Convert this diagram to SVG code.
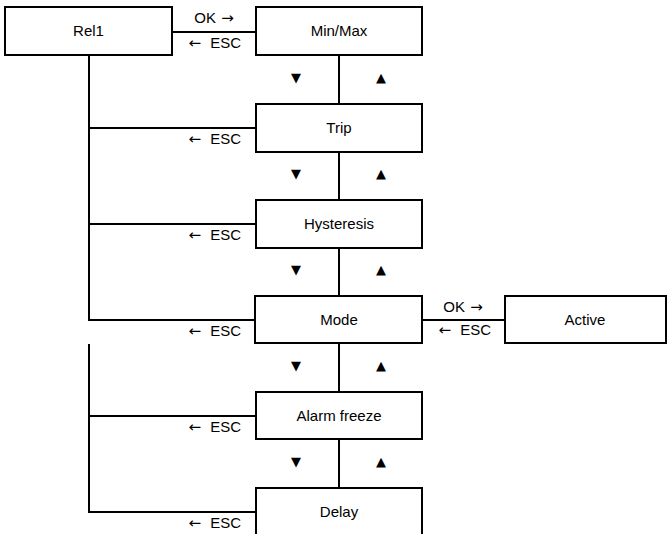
<svg xmlns="http://www.w3.org/2000/svg" width="668" height="534" viewBox="0 0 668 534">
<style>
.box{fill:#fff;stroke:#000;stroke-width:2}
.ln{fill:none;stroke:#000;stroke-width:2}
text{font-family:"Liberation Sans",Arial,sans-serif;font-size:15px;fill:#000}
.c{text-anchor:middle}
.r{text-anchor:end}
.a{font-family:"DejaVu Sans",sans-serif;font-size:15px}
.tri{font-family:"DejaVu Sans",sans-serif;font-size:13px;text-anchor:middle}
</style>
<rect width="668" height="534" fill="#fff"/>
<g id="connectors">
<path class="ln" d="M172,32H256M422,320H505"/>
<path class="ln" d="M89,55V320H255M89,128H255M89,224H255"/>
<path class="ln" d="M89,344V512H255M89,416H255"/>
<path class="ln" d="M339,55V104M339,152V200M339,248V296M339,343V392M339,439V488"/>
<text class="c" x="214" y="23">OK <tspan class="a" dx="1">→</tspan></text>
<text class="r" x="241" y="48"><tspan class="a">←</tspan><tspan dx="5"> ESC</tspan></text>
<text class="c" x="463" y="312">OK <tspan class="a" dx="1">→</tspan></text>
<text class="r" x="491" y="335"><tspan class="a">←</tspan><tspan dx="5"> ESC</tspan></text>
<text class="r" x="241" y="144"><tspan class="a">←</tspan><tspan dx="5"> ESC</tspan></text>
<text class="r" x="241" y="240"><tspan class="a">←</tspan><tspan dx="5"> ESC</tspan></text>
<text class="r" x="241" y="336"><tspan class="a">←</tspan><tspan dx="5"> ESC</tspan></text>
<text class="r" x="241" y="432"><tspan class="a">←</tspan><tspan dx="5"> ESC</tspan></text>
<text class="r" x="241" y="528"><tspan class="a">←</tspan><tspan dx="5"> ESC</tspan></text>
<text class="tri" x="296" y="82">▼</text><text class="tri" x="381" y="82">▲</text>
<text class="tri" x="296" y="178">▼</text><text class="tri" x="381" y="178">▲</text>
<text class="tri" x="296" y="274">▼</text><text class="tri" x="381" y="274">▲</text>
<text class="tri" x="296" y="370">▼</text><text class="tri" x="381" y="370">▲</text>
<text class="tri" x="296" y="466">▼</text><text class="tri" x="381" y="466">▲</text>
</g>
<g id="rel1"><rect class="box" x="5" y="7" width="167" height="48"/><text class="c" x="88.5" y="36">Rel1</text></g>
<g id="minmax"><rect class="box" x="256" y="7" width="166" height="48"/><text class="c" x="339" y="36">Min/Max</text></g>
<g id="trip"><rect class="box" x="256" y="104" width="166" height="48"/><text class="c" x="339" y="133">Trip</text></g>
<g id="hysteresis"><rect class="box" x="256" y="200" width="166" height="48"/><text class="c" x="339" y="229">Hysteresis</text></g>
<g id="mode"><rect class="box" x="255" y="296" width="167" height="47"/><text class="c" x="339" y="325">Mode</text></g>
<g id="active"><rect class="box" x="505" y="296" width="161" height="47"/><text class="c" x="585" y="325">Active</text></g>
<g id="alarmfreeze"><rect class="box" x="256" y="392" width="166" height="47"/><text class="c" x="339" y="421">Alarm freeze</text></g>
<g id="delay"><rect class="box" x="256" y="488" width="166" height="60"/><text class="c" x="339" y="517">Delay</text></g>
</svg>
